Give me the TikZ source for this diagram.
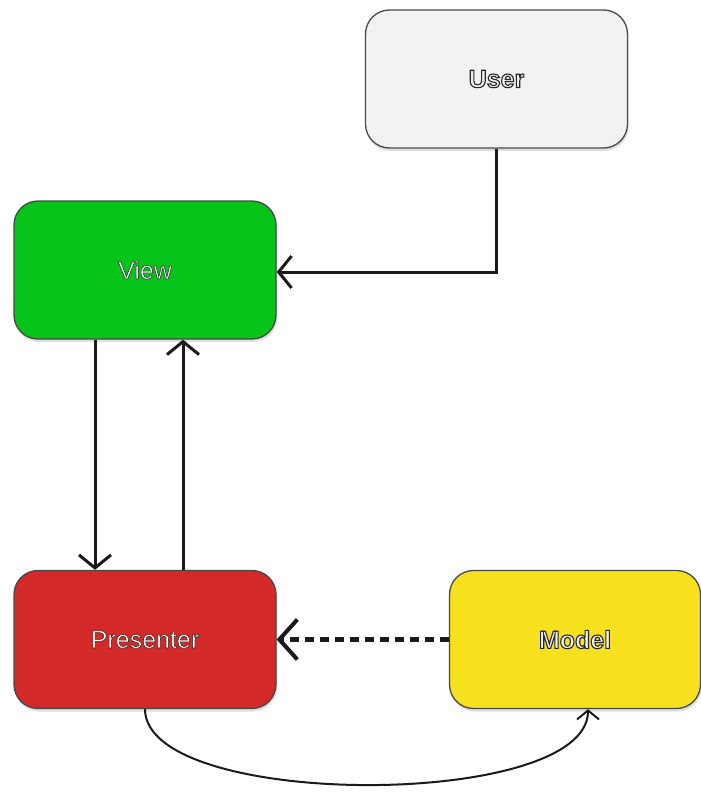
\documentclass[tikz,border=0pt]{standalone}
\usepackage{fontspec}
\setmainfont{Liberation Sans}
\usetikzlibrary{arrows.meta,shadows}

\definecolor{userfill}{HTML}{F2F2F2}
\definecolor{viewfill}{HTML}{07C41A}
\definecolor{presfill}{HTML}{D42929}
\definecolor{modelfill}{HTML}{F7E11F}
\definecolor{ink}{HTML}{1A1A1A}

% outlined lettering: fill with the current colour, stroke in dark grey
\newcommand{\outlinedtext}[2]{%
  \special{pdf:literal q 2 Tr #1 w 0.15 0.15 0.15 RG}#2\special{pdf:literal Q}}

\begin{document}
\begin{tikzpicture}[x=1pt,y=-1pt,
  box/.style={draw=#1, line width=1.3pt, rounded corners=24pt,
    minimum width=262pt, minimum height=138pt, inner sep=0pt,
    drop shadow={opacity=0.25, shadow xshift=1pt, shadow yshift=-3pt},
    font=\fontsize{25}{30}\selectfont},
  flow/.style={line width=3pt, draw=ink,
    -{Straight Barb[length=13pt,width=32pt,line width=3pt]}},
  query/.style={line width=5pt, draw=ink, dash pattern=on 9pt off 6pt,
    -{Straight Barb[length=18pt,width=40pt,line width=4pt]}},
  update/.style={line width=2pt, draw=ink,
    -{Straight Barb[length=9pt,width=22pt,line width=2pt]}}
]
\useasboundingbox (0,0) rectangle (701,798);

% components
\node[box=ink!80, fill=userfill, text=userfill, font=\fontsize{25}{30}\selectfont\bfseries] (user) at (496.5,79)
  {\outlinedtext{1.1}{User}};
\node[box=ink!80, fill=viewfill, text=white] (view) at (145,270)
  {\outlinedtext{0.55}{View}};
\node[box=ink!80, fill=presfill, text=white] (presenter) at (145,639.5)
  {\outlinedtext{0.55}{Presenter}};
\node[box=ink!80, fill=modelfill, text=userfill, minimum width=251pt, font=\fontsize{25}{30}\selectfont\bfseries] (model) at (575,639.5)
  {\outlinedtext{1.1}{Model}};

% user input reaches the view
\coordinate (bend) at (user.south |- view.east);
\draw[flow] (user.south) -- ([yshift=-2pt]bend) -- ([yshift=-2pt]view.east);

% view <-> presenter
\draw[flow] ([xshift=-50pt]view.south) -- ([xshift=-50pt]presenter.north);
\draw[flow] ([xshift=38pt]presenter.north) -- ([xshift=38pt]view.south);

% model notifies presenter
\draw[query] (model.west) -- (presenter.east);

% presenter updates model
\draw[update] (presenter.south) .. controls (145,810) and (588,810) .. ([xshift=13pt]model.south);
\end{tikzpicture}
\end{document}
